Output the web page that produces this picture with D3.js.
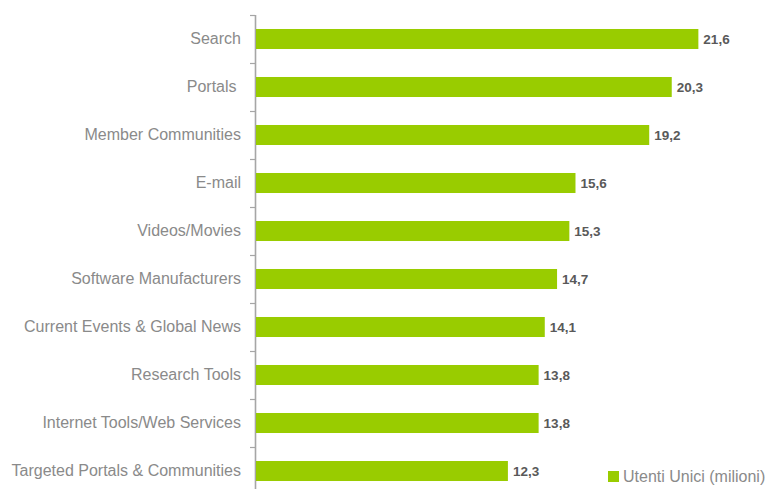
<!DOCTYPE html>
<html><head><meta charset="utf-8">
<script src="https://cdn.jsdelivr.net/npm/d3@7"></script>
<style>body{margin:0;background:#fff}svg{display:block}</style>
</head><body>
<svg id="c" width="768" height="489"></svg>
<script>
const categories = ["Search","Portals ","Member Communities","E-mail","Videos/Movies","Software Manufacturers","Current Events & Global News","Research Tools","Internet Tools/Web Services","Targeted Portals & Communities"];
const values = [21.6,20.3,19.2,15.6,15.3,14.7,14.1,13.8,13.8,12.3];
const valueLabels = ["21,6","20,3","19,2","15,6","15,3","14,7","14,1","13,8","13,8","12,3"];
const seriesName = "Utenti Unici (milioni)";

const svg = d3.select("#c");
const x = d3.scaleLinear().domain([0,25]).range([256,768]);
const y = d3.scaleBand().domain(categories).range([15,495]).paddingInner(0.583).paddingOuter(0.2915);
const step = y.step();
const green = "#99cc00";
const font = "Liberation Sans, Arial, sans-serif";

svg.append("line").attr("x1",255.5).attr("x2",255.5).attr("y1",15).attr("y2",489)
  .attr("stroke","#a6a6a6").attr("stroke-width",1.6);
categories.forEach((c,i)=>{
  const ty = 15 + i*step;
  svg.append("line").attr("x1",250).attr("x2",256).attr("y1",ty+0.5).attr("y2",ty+0.5)
    .attr("stroke","#a6a6a6").attr("stroke-width",1.2);
});

svg.selectAll("rect.bar").data(values).join("rect").attr("class","bar")
  .attr("x",x(0)).attr("y",(d,i)=>y(categories[i]))
  .attr("width",d=>x(d)-x(0)).attr("height",y.bandwidth()).attr("fill",green);

svg.selectAll("text.val").data(values).join("text").attr("class","val")
  .attr("x",d=>x(d)+5).attr("y",(d,i)=>y(categories[i])+y.bandwidth()/2+4.5)
  .attr("font-family",font).attr("font-weight","bold")
  .attr("font-size",13.5).attr("fill","#595959").text((d,i)=>valueLabels[i]);

svg.selectAll("text.cat").data(categories).join("text").attr("class","cat")
  .attr("x",241).attr("y",d=>y(d)+y.bandwidth()/2+4.5)
  .attr("text-anchor","end").attr("font-family",font)
  .attr("font-size",16).attr("fill","#8a8a8a").style("white-space","pre").text(d=>d);

svg.append("rect").attr("x",608).attr("y",471).attr("width",11).attr("height",11).attr("fill",green);
svg.append("text").attr("x",623).attr("y",482).attr("font-family",font)
  .attr("font-size",16).attr("fill","#8a8a8a").text(seriesName);
</script>
</body></html>
